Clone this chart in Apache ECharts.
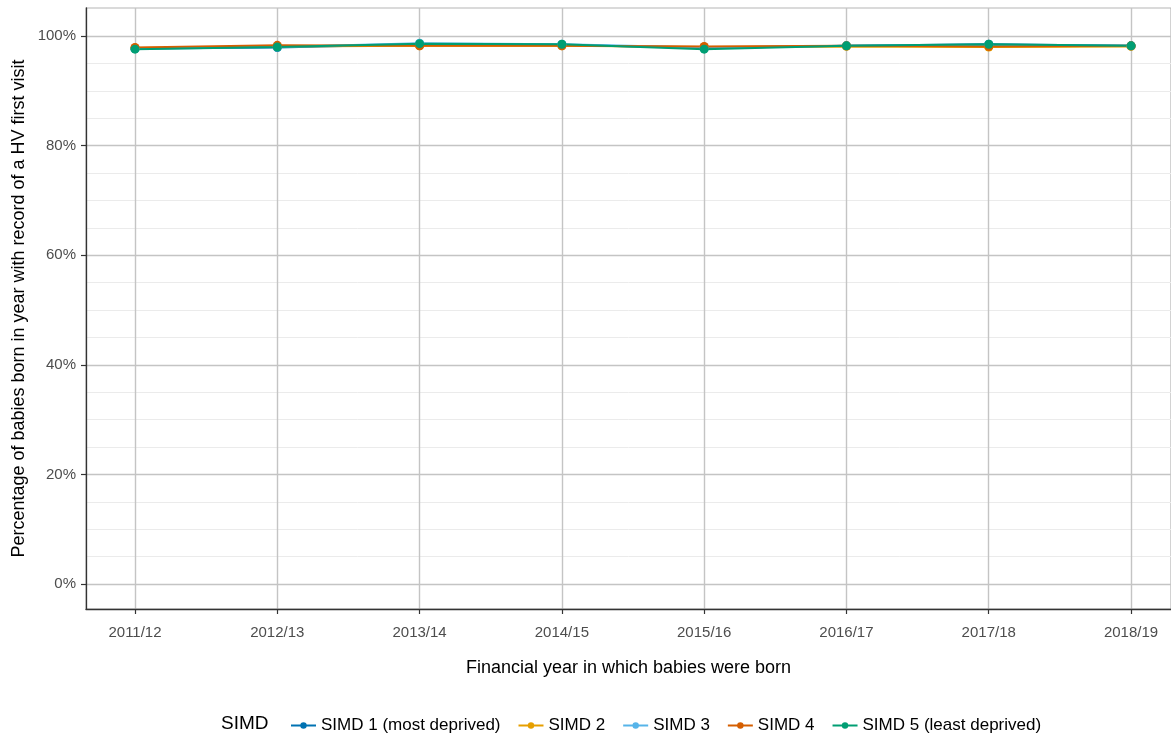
<!DOCTYPE html>
<html>
<head>
<meta charset="utf-8">
<script src="https://cdn.jsdelivr.net/npm/echarts@6/dist/echarts.min.js"></script>
<style>
html,body{margin:0;padding:0;background:#fff;}
#chart{width:1171px;height:738px;}
</style>
</head>
<body>
<div id="chart"></div>
<script>
// ---- data ----
const categories = ['2011/12','2012/13','2013/14','2014/15','2015/16','2016/17','2017/18','2018/19'];
const seriesNames = ['SIMD 1 (most deprived)','SIMD 2','SIMD 3','SIMD 4','SIMD 5 (least deprived)'];
const simd1 = [97.7, 97.9, 98.5, 98.4, 97.8, 98.2, 98.5, 98.2];
const simd2 = [97.8, 98.1, 98.2, 98.2, 98.0, 98.1, 98.0, 98.1];
const simd3 = [97.7, 98.0, 98.7, 98.5, 97.9, 98.2, 98.4, 98.2];
const simd4 = [97.9, 98.3, 98.2, 98.2, 98.1, 98.2, 98.1, 98.2];
const simd5 = [97.6, 98.0, 98.6, 98.5, 97.6, 98.2, 98.5, 98.2];
const yTickMin = 0, yTickMax = 100, yTickStep = 20;
const colors = ['#0072B2', '#E69F00', '#56B4E9', '#D55E00', '#009E73'];

const allValues = [simd1, simd2, simd3, simd4, simd5];

const chart = echarts.init(document.getElementById('chart'), null, {renderer: 'canvas'});
const font = 'Liberation Sans, Arial, sans-serif';

const dataSeries = seriesNames.map((n, k) => ({
  name: n, type: 'line', z: 3, xAxisIndex: 0, yAxisIndex: 0,
  data: allValues[k].map((v, i) => [i, v]),
  symbol: 'circle', symbolSize: 9,
  lineStyle: {color: colors[k], width: 2},
  itemStyle: {color: colors[k]},
  animation: false
}));

const hidden = {show: false};

chart.setOption({
  backgroundColor: '#fff',
  animation: false,
  grid: [
    // panel
    {left: 86, top: 8, right: 0, bottom: 129, show: true, borderColor: '#b5b5b5', borderWidth: 1.2,
     backgroundColor: 'transparent', containLabel: false, outerBoundsMode: 'none'},
    // y ticks (0..100 region)
    {left: 86, top: 36, right: 0, bottom: 154, containLabel: false, outerBoundsMode: 'none'},
    // x ticks (first..last category)
    {left: 135, top: 8, right: 40, bottom: 129, containLabel: false, outerBoundsMode: 'none'}
  ],
  xAxis: [
    {
      gridIndex: 0, type: 'value', min: -0.3444, max: 7.2806,
      name: 'Financial year in which babies were born',
      nameLocation: 'middle', nameGap: 50,
      nameTextStyle: {color: '#000', fontSize: 18, fontFamily: font},
      axisLine: {show: true, onZero: false, lineStyle: {color: '#333', width: 1.3}},
      axisTick: hidden, axisLabel: hidden, splitLine: hidden
    },
    {gridIndex: 1, type: 'value', min: 0, max: 1, show: false},
    {
      gridIndex: 2, type: 'value', min: 0, max: categories.length - 1, interval: 1,
      axisLine: hidden,
      axisTick: {show: true, length: 5, lineStyle: {color: '#333', width: 1.2}},
      axisLabel: {color: '#4d4d4d', fontSize: 15, fontFamily: font, margin: 16,
        formatter: v => categories[Math.round(v)] || ''},
      splitLine: {show: true, lineStyle: {color: '#c4c4c4', width: 1.4}}
    }
  ],
  yAxis: [
    {
      gridIndex: 0, type: 'value', min: -4.562, max: 105.11,
      name: 'Percentage of babies born in year with record of a HV first visit',
      nameLocation: 'middle', nameGap: 58,
      nameTextStyle: {color: '#000', fontSize: 18, fontFamily: font},
      axisLine: {show: true, onZero: false, lineStyle: {color: '#333', width: 1.3}},
      axisTick: hidden, axisLabel: hidden, splitLine: hidden
    },
    {
      gridIndex: 1, type: 'value', min: yTickMin, max: yTickMax, interval: yTickStep,
      axisLine: hidden,
      axisTick: {show: true, length: 5, lineStyle: {color: '#333', width: 1.2}},
      axisLabel: {color: '#4d4d4d', fontSize: 15, fontFamily: font, margin: 10,
        formatter: v => Math.round(v) + '%'},
      splitLine: {show: true, lineStyle: {color: '#c4c4c4', width: 1.4}},
      minorTick: {show: false, splitNumber: 4},
      minorSplitLine: {show: true, lineStyle: {color: '#ebebeb', width: 1}}
    },
    {gridIndex: 2, type: 'value', min: 0, max: 1, show: false}
  ],
  legend: {
    data: seriesNames,
    left: 285, top: 712,
    itemWidth: 25, itemHeight: 8, itemGap: 17,
    textStyle: {color: '#000', fontSize: 17, fontFamily: font}
  },
  graphic: [{
    type: 'text', left: 221, top: 714,
    style: {text: 'SIMD', fontSize: 19, fontFamily: font, fill: '#000'}
  }],
  series: dataSeries
});
</script>
</body>
</html>
